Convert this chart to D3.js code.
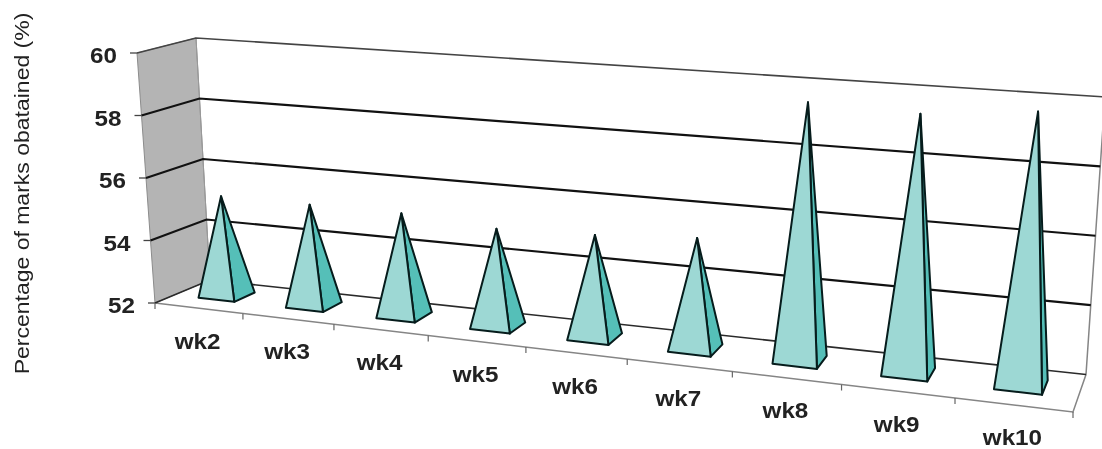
<!DOCTYPE html>
<html>
<head>
<meta charset="utf-8">
<script src="https://d3js.org/d3.v7.min.js"></script>
<style>
    html, body { margin: 0; padding: 0; background: #fff; }
    svg { display: block; filter: blur(0.5px); }
    text { font-family: "Liberation Sans", Arial, sans-serif; }
</style>
</head>
<body>
<div id="chart"></div>
<script>
// values
let categories = ["wk2", "wk3", "wk4", "wk5", "wk6", "wk7", "wk8", "wk9", "wk10"];
let marks = [55.2, 55.2, 55.2, 55.0, 55.1, 55.3, 59.6, 59.5, 59.8];
let yTicks = [52, 54, 56, 58, 60];
let yTitle = "Percentage of marks obatained (%)";

let width = 1102, height = 449;

let svg = d3.select("#chart").append("svg")
    .attr("width", width)
    .attr("height", height);

// the 3d box as it lands on screen: [left, right] for each of the four long edges
let frontBottom = [[155, 303], [1073, 412]];
let frontTop = [[137, 53], [1094, 123]];
let backBottom = [[210, 280], [1086, 374.5]];
let backTop = [[196, 38], [1105, 97]];

// scales work in box units (0-1), project() turns them into pixels
let x = d3.scaleBand().domain(categories).range([0, 1]);
let y = d3.scaleLinear().domain([52, 60]).range([0, 1]);

// foreshortening along the long edge
let k = 1.18;
let persp = u => u / (u + k * (1 - u));

function project(u, v, w) {
    let t = persp(u);
    let along = edge => [
        d3.interpolateNumber(edge[0][0], edge[1][0])(t),
        d3.interpolateNumber(edge[0][1], edge[1][1])(t)
    ];
    let fb = along(frontBottom), ft = along(frontTop), bb = along(backBottom), bt = along(backTop);
    let bottom = [fb[0] + (bb[0] - fb[0]) * w, fb[1] + (bb[1] - fb[1]) * w];
    let top = [ft[0] + (bt[0] - ft[0]) * w, ft[1] + (bt[1] - ft[1]) * w];
    return [bottom[0] + (top[0] - bottom[0]) * v, bottom[1] + (top[1] - bottom[1]) * v];
}

let line = d3.line();
let poly = pts => line(pts) + "Z";

// the source image is stretched sideways, so the bold labels are too
let stretch = 1.1;

// walls and floor
svg.append("path")
    .attr("d", poly([project(0, 0, 0), project(0, 1, 0), project(0, 1, 1), project(0, 0, 1)]))
    .attr("fill", "#b4b4b4")
    .attr("stroke", "#8c8c8c")
    .attr("stroke-width", 1);

svg.append("path")
    .attr("d", line([project(0, 0, 1), project(0, 1, 1)]))
    .attr("stroke", "#9a9a9a")
    .attr("fill", "none");

svg.append("path")
    .attr("d", line([project(1, 1, 1), project(1, 0, 1), project(1, 0, 0), project(0, 0, 0)]))
    .attr("stroke", "#858585")
    .attr("stroke-width", 1.5)
    .attr("fill", "none");

// gridlines, along the left wall then the back wall
let grid = svg.append("g");
yTicks.forEach(d => {
    let v = y(d);
    let p = project(0, v, 0);

    grid.append("path")
        .attr("d", line([p, project(0, v, 1), project(1, v, 1)]))
        .attr("fill", "none")
        .attr("stroke", d === 60 ? "#444" : d === 52 ? "#2a2a2a" : "#111")
        .attr("stroke-width", d === 60 || d === 52 ? 1.6 : 2.2);

    grid.append("path")
        .attr("d", line([p, [p[0] - 7, p[1]]]))
        .attr("stroke", "#444")
        .attr("stroke-width", 1.3);

    svg.append("text")
        .attr("transform", `translate(${p[0] - 20},${p[1] + 10}) scale(${stretch},1)`)
        .attr("text-anchor", "end")
        .attr("font-size", 22)
        .attr("font-weight", "bold")
        .attr("fill", "#222")
        .text(d);
});

// category ticks on the front edge of the floor
d3.range(categories.length + 1).forEach(i => {
    let p = project(i / categories.length, 0, 0);
    svg.append("path")
        .attr("d", line([p, [p[0], p[1] + 6]]))
        .attr("stroke", "#666")
        .attr("stroke-width", 1.2);
});

// pyramids
let halfWidth = 0.023, shift = -0.001, w0 = 0.35, w1 = 0.74;

categories.forEach((c, i) => {
    let u = x(c) + x.bandwidth() / 2 + shift;
    let v = y(marks[i]);
    let apex = project(u, v, (w0 + w1) / 2);
    let fl = project(u - halfWidth, 0, w0);
    let fr = project(u + halfWidth, 0, w0);
    let br = project(u + halfWidth, 0, w1);

    let g = svg.append("g").attr("class", "pyramid");

    g.append("path")
        .attr("d", poly([fr, br, apex]))
        .attr("fill", "#55bfb8")
        .attr("stroke", "#061c1c")
        .attr("stroke-width", 2)
        .attr("stroke-linejoin", "round");

    g.append("path")
        .attr("d", poly([fl, fr, apex]))
        .attr("fill", "#9dd8d4")
        .attr("stroke", "#061c1c")
        .attr("stroke-width", 2)
        .attr("stroke-linejoin", "round");

    let p = project(x(c) + x.bandwidth() / 2, 0, 0);
    svg.append("text")
        .attr("transform", `translate(${p[0] - 1},${p[1] + 40.5}) scale(${stretch},1)`)
        .attr("text-anchor", "middle")
        .attr("font-size", 22)
        .attr("font-weight", "bold")
        .attr("fill", "#222")
        .text(c);
});

// axis title
svg.append("text")
    .attr("transform", "translate(29,193.5) rotate(-90) scale(1.15,1)")
    .attr("text-anchor", "middle")
    .attr("font-size", 20)
    .attr("fill", "#222")
    .text(yTitle);
</script>
</body>
</html>
